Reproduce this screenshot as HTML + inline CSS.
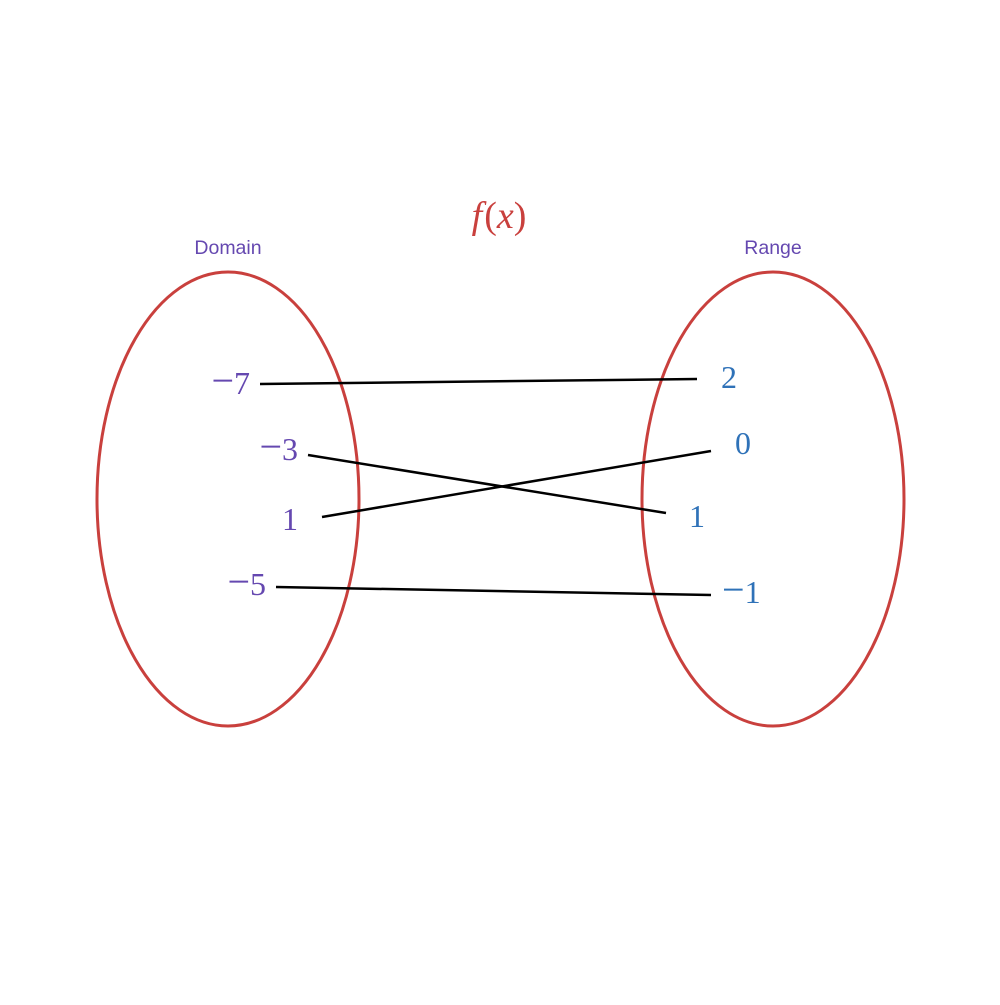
<!DOCTYPE html>
<html><head><meta charset="utf-8"><style>body{margin:0;background:#fff}</style></head>
<body>
<svg width="1000" height="1000" xmlns="http://www.w3.org/2000/svg">
<rect width="1000" height="1000" fill="#fff"/>
<ellipse cx="228" cy="499" rx="131" ry="227" fill="none" stroke="#c9403d" stroke-width="3"/>
<ellipse cx="773" cy="499" rx="131" ry="227" fill="none" stroke="#c9403d" stroke-width="3"/>
<text x="228" y="254" font-family="Liberation Sans, sans-serif" font-size="19.5" fill="#6548b0" text-anchor="middle">Domain</text>
<text x="773" y="254" font-family="Liberation Sans, sans-serif" font-size="19.5" fill="#6548b0" text-anchor="middle">Range</text>
<text x="499" y="228" font-family="Liberation Serif, serif" font-size="38" fill="#c9403d" text-anchor="middle"><tspan font-style="italic">f</tspan><tspan dx="2">(</tspan><tspan font-style="italic">x</tspan>)</text>
<g font-family="Liberation Serif, serif" font-size="32" fill="#6548b0" text-anchor="end">
<text x="250" y="394"><tspan font-size="40">−</tspan>7</text>
<text x="298" y="460"><tspan font-size="40">−</tspan>3</text>
<text x="298" y="530">1</text>
<text x="266" y="595"><tspan font-size="40">−</tspan>5</text>
</g>
<g font-family="Liberation Serif, serif" font-size="32" fill="#2f72b8">
<text x="721" y="388">2</text>
<text x="735" y="454">0</text>
<text x="689" y="527">1</text>
<text x="722" y="603"><tspan font-size="40">−</tspan>1</text>
</g>
<g stroke="#000" stroke-width="2.5">
<line x1="260" y1="384" x2="697" y2="379"/>
<line x1="308" y1="455" x2="666" y2="513"/>
<line x1="322" y1="517" x2="711" y2="451"/>
<line x1="276" y1="587" x2="711" y2="595"/>
</g>
</svg>
</body></html>
